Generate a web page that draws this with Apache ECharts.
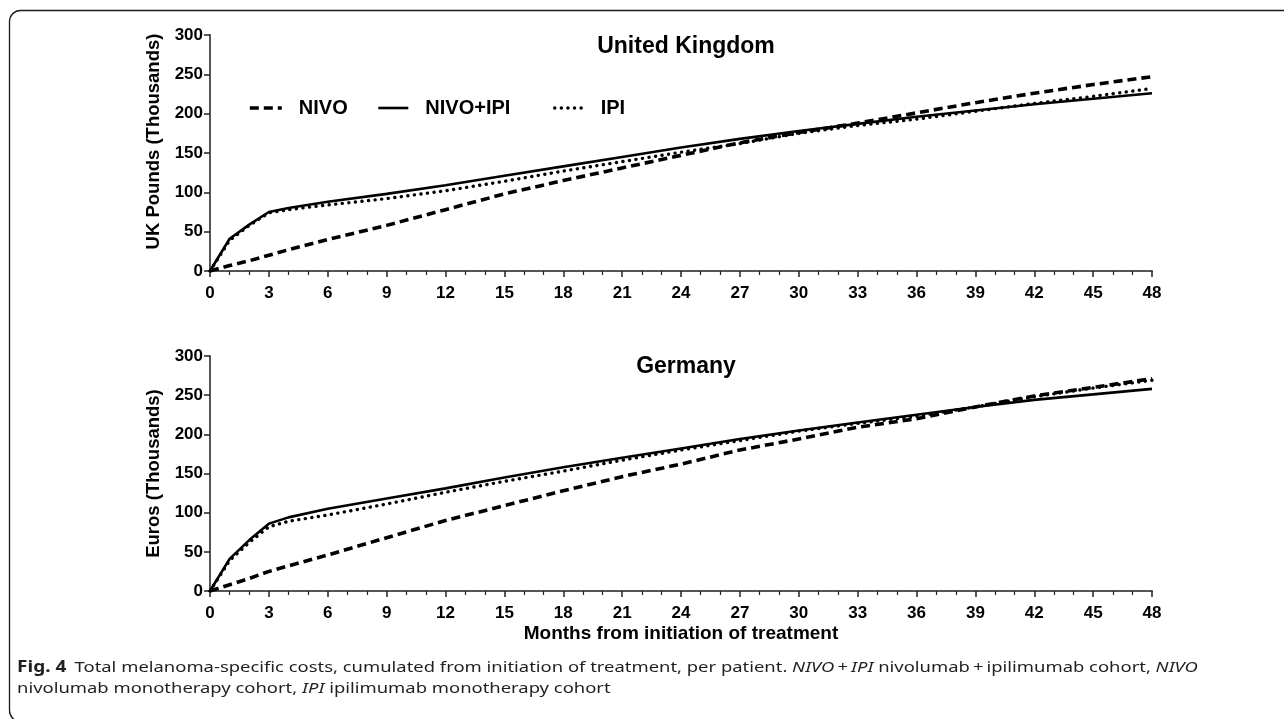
<!DOCTYPE html>
<html>
<head>
<meta charset="utf-8">
<script src="https://cdn.jsdelivr.net/npm/echarts@6/dist/echarts.min.js"></script>
<style>
  html, body { margin: 0; padding: 0; background: #fff; }
  #chart { width: 1284px; height: 719px; }
</style>
</head>
<body>
<div id="chart"></div>
<script>
// Months since start of treatment at which cumulative costs are given
const months = [0, 1, 2, 3, 4, 6, 9, 12, 15, 18, 21, 24, 27, 30, 33, 36, 39, 42, 45, 48];

// United Kingdom, cumulative cost per patient (GBP thousands)
const ukNivo    = [0, 7, 13, 20, 27, 40, 58, 78, 98, 115, 131, 147, 163, 176, 188, 201, 214, 226, 237, 247];
const ukNivoIpi = [0, 41, 59, 75, 80, 88, 98, 109, 121, 133, 145, 157, 168, 178, 187, 196, 204, 212, 219, 226];
const ukIpi     = [0, 39, 58, 74, 78, 84, 92, 102, 114, 127, 139, 151, 162, 175, 185, 193, 203, 213, 222, 232];

// Germany, cumulative cost per patient (EUR thousands)
const deNivo    = [0, 8, 16, 25, 32, 46, 68, 90, 109, 128, 146, 162, 180, 194, 209, 220, 235, 249, 260, 271];
const deNivoIpi = [0, 41, 65, 86, 94, 105, 118, 131, 145, 158, 170, 182, 194, 205, 215, 225, 235, 244, 251, 258];
const deIpi     = [0, 39, 62, 82, 89, 97, 111, 126, 140, 153, 167, 180, 192, 204, 214, 223, 235, 248, 259, 269];

const seriesNames = ['NIVO', 'NIVO+IPI', 'IPI'];
const yTicks = { min: 0, max: 300, interval: 50 };
const xTicks = { min: 0, max: 48, interval: 3 };

const pairs = (ys) => months.map((m, i) => [m, ys[i]]);

const styles = {
  'NIVO':     { type: [9, 5], width: 3.6, cap: 'butt' },
  'NIVO+IPI': { type: 'solid', width: 2.6, cap: 'butt' },
  'IPI':      { type: [0.1, 6.5], width: 3.4, cap: 'round' }
};

const FONT = '"Liberation Sans", Arial, sans-serif';
const AXIS_COLOR = '#555';

function makeSeries(name, data, idx) {
  return {
    name: name,
    type: 'line',
    xAxisIndex: idx,
    yAxisIndex: idx,
    data: pairs(data),
    showSymbol: false,
    symbol: 'none',
    smooth: false,
    lineStyle: Object.assign({ color: '#000' }, styles[name]),
    itemStyle: { color: '#000' },
    z: name === 'NIVO+IPI' ? 3 : 2,
    animation: false
  };
}

function xAxis(idx, withName) {
  const ax = {
    type: 'value',
    gridIndex: idx,
    min: xTicks.min,
    max: xTicks.max,
    interval: xTicks.interval,
    axisLine: { show: true, onZero: false, lineStyle: { color: AXIS_COLOR, width: 2 } },
    axisTick: { show: true, length: 6, lineStyle: { color: '#222', width: 1.5 } },
    minorTick: { show: true, splitNumber: 3, length: 4, lineStyle: { color: '#222', width: 1.2 } },
    splitLine: { show: false },
    axisLabel: { color: '#000', fontFamily: FONT, fontWeight: 'bold', fontSize: 17, margin: 14 }
  };
  if (withName) {
    ax.name = 'Months from initiation of treatment';
    ax.nameLocation = 'middle';
    ax.nameGap = 33;
    ax.nameTextStyle = { color: '#000', fontFamily: FONT, fontWeight: 'bold', fontSize: 19 };
  }
  return ax;
}

function yAxis(idx, name, pad) {
  return {
    type: 'value',
    gridIndex: idx,
    min: yTicks.min,
    max: yTicks.max,
    interval: yTicks.interval,
    name: name,
    nameLocation: 'middle',
    nameGap: 45,
    nameTextStyle: { color: '#000', fontFamily: FONT, fontWeight: 'bold', fontSize: 18.5, padding: pad },
    axisLine: { show: true, lineStyle: { color: AXIS_COLOR, width: 2 } },
    axisTick: { show: true, length: 6, lineStyle: { color: '#222', width: 1.5 } },
    splitLine: { show: false },
    axisLabel: { color: '#000', fontFamily: FONT, fontWeight: 'bold', fontSize: 17, margin: 7 }
  };
}

// one legend box per series so each key can sit at its own spot
function legendFor(name, left, width) {
  return {
    data: [{
      name: name,
      lineStyle: Object.assign({ color: '#000' }, styles[name]),
      itemStyle: { color: 'rgba(0,0,0,0)', borderWidth: 0, opacity: 0 }
    }],
    left: left,
    top: 93,
    itemWidth: width,
    itemHeight: 14,
    itemGap: 0,
    textStyle: { color: '#000', fontFamily: FONT, fontWeight: 'bold', fontSize: 20, padding: [0, 0, 0, 12] },
    selectedMode: false
  };
}

const chart = echarts.init(document.getElementById('chart'), null, { renderer: 'canvas' });

chart.setOption({
  backgroundColor: '#fff',
  animation: false,
  title: [
    { text: 'United Kingdom', left: 681, top: 30, textAlign: 'center',
      textStyle: { color: '#000', fontFamily: FONT, fontWeight: 'bold', fontSize: 23 } },
    { text: 'Germany', left: 681, top: 350, textAlign: 'center',
      textStyle: { color: '#000', fontFamily: FONT, fontWeight: 'bold', fontSize: 23 } }
  ],
  legend: [
    legendFor('NIVO', 243, 32),
    legendFor('NIVO+IPI', 372, 30),
    legendFor('IPI', 548, 29)
  ],
  grid: [
    { left: 210, top: 35, width: 942, height: 236 },
    { left: 210, top: 356, width: 942, height: 235 }
  ],
  xAxis: [xAxis(0, false), xAxis(1, true)],
  yAxis: [
    yAxis(0, 'UK Pounds (Thousands)', [0, 0, 0, 23]),
    yAxis(1, 'Euros (Thousands)', [0, 0, 0, 0])
  ],
  series: [
    makeSeries('NIVO', ukNivo, 0),
    makeSeries('NIVO+IPI', ukNivoIpi, 0),
    makeSeries('IPI', ukIpi, 0),
    makeSeries('NIVO', deNivo, 1),
    makeSeries('NIVO+IPI', deNivoIpi, 1),
    makeSeries('IPI', deIpi, 1)
  ],
  graphic: [
    // panel frame with rounded corners
    { type: 'rect', silent: true, z: 0,
      shape: { x: 9.5, y: 10.5, width: 1320, height: 711, r: 11 },
      style: { fill: 'none', stroke: '#1a1a1a', lineWidth: 1.3 } },
    // figure caption
    { type: 'text', x: 17, y: 657, scaleX: 1.228, silent: true,
      style: {
        text: '{b|Fig. 4}  {n|Total melanoma-specific costs, cumulated from initiation of treatment, per patient. }{i|NIVO}{n|\u2009+\u2009}{i|IPI}{n| nivolumab\u2009+\u2009ipilimumab cohort, }{i|NIVO}\n{n|nivolumab monotherapy cohort, }{i|IPI}{n| ipilimumab monotherapy cohort}',
        fill: '#231f20',
        lineHeight: 21,
        rich: {
          b: { fontFamily: '"Noto Sans", sans-serif', fontWeight: 'bold', fontSize: 15.5, fill: '#231f20', lineHeight: 21 },
          n: { fontFamily: '"Noto Sans", sans-serif', fontSize: 15, fill: '#231f20', lineHeight: 21 },
          i: { fontFamily: '"Noto Sans", sans-serif', fontStyle: 'italic', fontSize: 15, fill: '#231f20', lineHeight: 21 }
        }
      } }
  ]
});
</script>
</body>
</html>
